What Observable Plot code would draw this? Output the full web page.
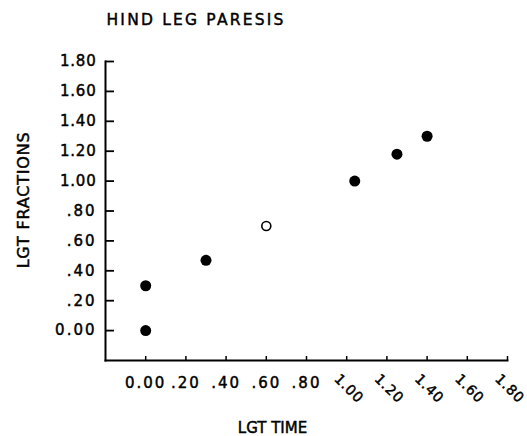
<!DOCTYPE html>
<html>
<head>
<meta charset="utf-8">
<script src="https://cdn.jsdelivr.net/npm/d3@7"></script>
<script src="https://cdn.jsdelivr.net/npm/@observablehq/plot@0.6"></script>
<style>
  html, body { margin: 0; padding: 0; background: #fff; }
  #chart svg { display: block; }
</style>
</head>
<body>
<div id="chart"></div>
<script>
// ---- data ----
const lgtTime      = [0.00, 0.00, 0.30, 0.60, 1.04, 1.25, 1.40];
const lgtFractions = [0.00, 0.30, 0.47, 0.70, 1.00, 1.18, 1.30];
const filled       = [true, true, true, false, true, true, true];

const yTicks      = [0, 0.2, 0.4, 0.6, 0.8, 1.0, 1.2, 1.4, 1.6, 1.8];
const yTickLabels = ["0.00", ".20", ".40", ".60", ".80", "1.00", "1.20", "1.40", "1.60", "1.80"];
const xTicksFlat       = [0, 0.2, 0.4, 0.6, 0.8];
const xTickLabelsFlat  = ["0.00", ".20", ".40", ".60", ".80"];
const xTicksRot        = [1.0, 1.2, 1.4, 1.6, 1.8];
const xTickLabelsRot   = ["1.00", "1.20", "1.40", "1.60", "1.80"];
const xTicksAll = xTicksFlat.concat(xTicksRot);

const titleText = "HIND LEG PARESIS";
const xLabel = "LGT TIME";
const yLabel = "LGT FRACTIONS";

const points = lgtTime.map((x, i) => ({x, y: lgtFractions[i], filled: filled[i]}));

const font = "DejaVu Sans";

const chart = Plot.plot({
  width: 527,
  height: 436,
  marginLeft: 105,
  marginRight: 20,
  marginTop: 61,
  marginBottom: 76,
  style: {fontFamily: font, fontSize: "15px", color: "#000", background: "#fff"},
  x: {domain: [-0.2, 1.8]},
  y: {domain: [-0.2, 1.8]},
  marks: [
    Plot.frame({anchor: "left", stroke: "#000", strokeWidth: 2}),
    Plot.frame({anchor: "bottom", stroke: "#000", strokeWidth: 2}),
    // inward ticks
    Plot.axisY(yTicks, {tickSize: -9, strokeWidth: 1.8, tickFormat: () => "", label: null}),
    Plot.axisX(xTicksAll, {tickSize: -4, strokeWidth: 1.5, tickFormat: () => "", label: null}),
    // tick labels
    Plot.axisY(yTicks, {tickSize: 0, tickPadding: 9, fontSize: 15,
      tickFormat: d => yTickLabels[yTicks.indexOf(d)], label: null}),
    Plot.axisX(xTicksFlat, {tickSize: 0, tickPadding: 17, fontSize: 15,
      tickFormat: d => xTickLabelsFlat[xTicksFlat.indexOf(d)], label: null}),
    Plot.axisX(xTicksRot, {tickSize: 0, tickPadding: 16, tickRotate: 45, textAnchor: "start", lineAnchor: "middle",
      dx: -10, fontSize: 14,
      tickFormat: d => xTickLabelsRot[xTicksRot.indexOf(d)], label: null}),
    // points
    Plot.dot(points.filter(d => d.filled), {x: "x", y: "y", r: 5.5, fill: "#000", stroke: "none"}),
    Plot.dot(points.filter(d => !d.filled), {x: "x", y: "y", r: 4.5, fill: "#fff", stroke: "#000", strokeWidth: 1.6}),
    // title & axis labels
    Plot.text([titleText], {frameAnchor: "top-left", dx: 1, dy: -41, textAnchor: "start", lineAnchor: "middle",
      fontSize: 15.5, fill: "#000"}),
    Plot.text([yLabel], {frameAnchor: "left", dx: -82, dy: -11, rotate: -90, textAnchor: "middle", lineAnchor: "middle",
      fontSize: 16, fill: "#000"}),
    Plot.text([xLabel], {frameAnchor: "bottom", dx: -34, dy: 68, textAnchor: "middle", lineAnchor: "middle",
      fontSize: 15, fill: "#000"})
  ]
});

const spacing = new Map([
  [titleText, "2.2px"],
  [yLabel, "0.8px"],
  [xLabel, "0px"]
]);
d3.select(chart).selectAll("text").each(function() {
  const t = this.textContent;
  this.style.letterSpacing = spacing.has(t) ? spacing.get(t)
    : (xTickLabelsRot.includes(t) ? "0.8px" : "2px");
  this.style.fill = "#000";
  this.style.stroke = "#000";
  this.style.strokeWidth = "0.45px";
});
document.getElementById("chart").appendChild(chart);
</script>
</body>
</html>
